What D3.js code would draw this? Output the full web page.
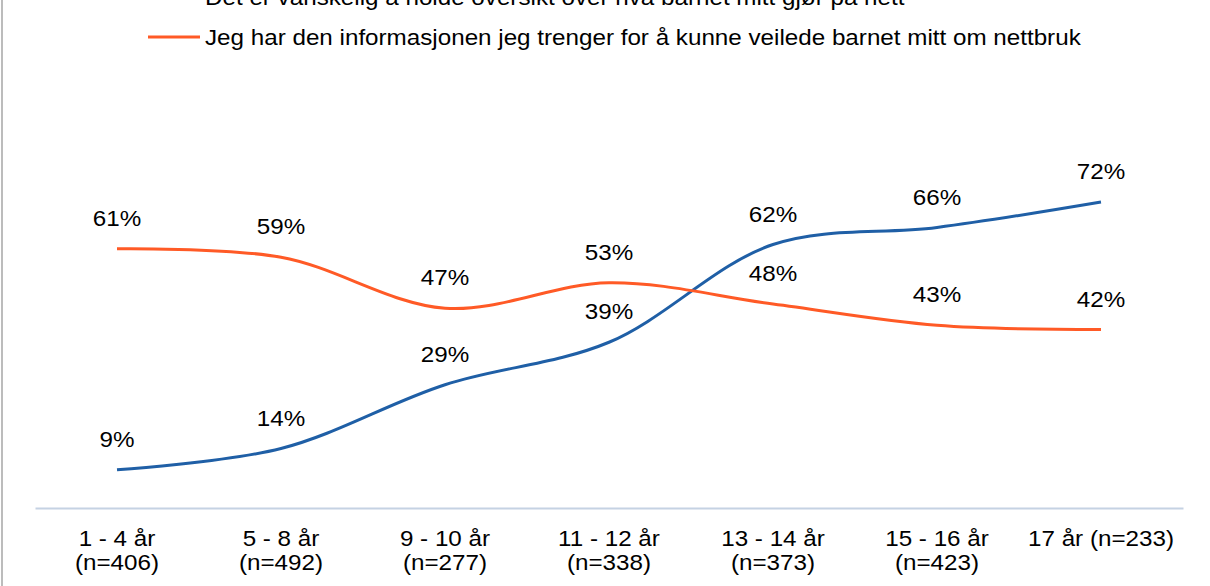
<!DOCTYPE html>
<html>
<head>
<meta charset="utf-8">
<script src="https://cdn.jsdelivr.net/npm/d3@7"></script>
<style>
  body { margin: 0; background: #fff; }
  svg { display: block; font-family: "Liberation Sans", Arial, sans-serif; }
</style>
</head>
<body>
<div id="chart"></div>
<script>
// Data
const categories = ["1 - 4 år", "5 - 8 år", "9 - 10 år", "11 - 12 år", "13 - 14 år", "15 - 16 år", "17 år (n=233)"];
const sampleSizes = ["(n=406)", "(n=492)", "(n=277)", "(n=338)", "(n=373)", "(n=423)", ""];
const seriesNames = [
  "Det er vanskelig å holde oversikt over hva barnet mitt gjør på nett",
  "Jeg har den informasjonen jeg trenger for å kunne veilede barnet mitt om nettbruk"
];
const vanskelig = [9, 14, 29, 39, 62, 66, 72];
const informasjon = [61, 59, 47, 53, 48, 43, 42];
const colors = ["#1f5fa6", "#ff5a26"];

const w = 1210;
const h = 586;
const fontSize = 22;
const stretch = 1.1; // reference text is a bit wider than plain Arial

const svg = d3.select("#chart")
  .append("svg")
  .attr("width", w)
  .attr("height", h);

// widen text horizontally to match the reference
function widen(sel) {
  sel.each(function() {
    const len = this.getComputedTextLength();
    if (len > 0) {
      d3.select(this)
        .attr("textLength", len * stretch)
        .attr("lengthAdjust", "spacingAndGlyphs");
    }
  });
}

// Scales
const xScale = d3.scaleBand()
  .domain(categories)
  .range([35, 1183]);

const yScale = d3.scaleLinear()
  .domain([0, 100])
  .range([508, 83]);

const xc = c => xScale(c) + xScale.bandwidth() / 2;

// left border
svg.append("line")
  .attr("x1", 2).attr("x2", 2)
  .attr("y1", 0).attr("y2", h)
  .attr("stroke", "#a6a6a6")
  .attr("stroke-width", 1.5);

// x-axis
const xAxis = d3.axisBottom(xScale).tickSize(0).tickFormat("");
const axisG = svg.append("g")
  .attr("transform", `translate(0, ${yScale(0)})`)
  .call(xAxis);
axisG.select(".domain")
  .attr("stroke", "#c5d2e3")
  .attr("stroke-width", 2);

const labels = svg.append("g");
categories.forEach((c, i) => {
  labels.append("text")
    .attr("x", xc(c))
    .attr("y", 546)
    .attr("text-anchor", "middle")
    .attr("font-size", fontSize)
    .attr("fill", "#000")
    .text(c);
  if (sampleSizes[i]) {
    labels.append("text")
      .attr("x", xc(c))
      .attr("y", 570)
      .attr("text-anchor", "middle")
      .attr("font-size", fontSize)
      .attr("fill", "#000")
      .text(sampleSizes[i]);
  }
});
widen(labels.selectAll("text"));

// Lines
const line = d3.line()
  .x((d, i) => xc(categories[i]))
  .y(d => yScale(d))
  .curve(d3.curveCatmullRom.alpha(0.5));

[vanskelig, informasjon].forEach((series, s) => {
  svg.append("path")
    .datum(series)
    .attr("fill", "none")
    .attr("stroke", colors[s])
    .attr("stroke-width", 3)
    .attr("d", line);

  svg.append("g")
    .selectAll("text")
    .data(series)
    .enter()
    .append("text")
    .attr("x", (d, i) => xc(categories[i]))
    .attr("y", d => yScale(d) - 23)
    .attr("text-anchor", "middle")
    .attr("font-size", fontSize)
    .attr("fill", "#000")
    .text(d => d + "%")
    .call(widen);
});

// Legend
const legendY = [-3, 37];
seriesNames.forEach((name, s) => {
  svg.append("line")
    .attr("x1", 148).attr("x2", 200)
    .attr("y1", legendY[s]).attr("y2", legendY[s])
    .attr("stroke", colors[s])
    .attr("stroke-width", 3);
  svg.append("text")
    .attr("x", 205)
    .attr("y", legendY[s] + 8)
    .attr("font-size", fontSize)
    .attr("fill", "#000")
    .text(name)
    .call(widen);
});
</script>
</body>
</html>
